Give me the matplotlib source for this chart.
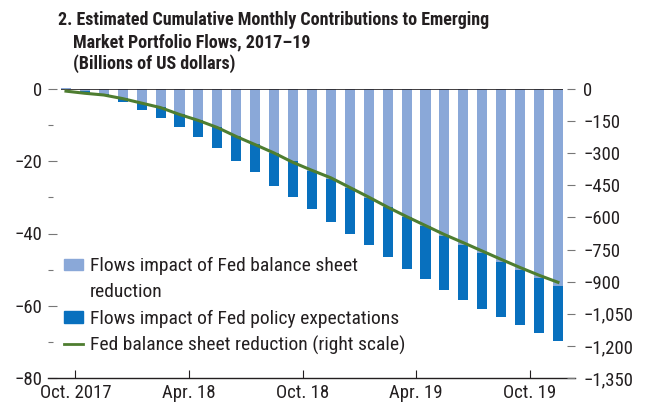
import matplotlib.pyplot as plt
from matplotlib import font_manager
from matplotlib.patches import Patch
from matplotlib.lines import Line2D
from matplotlib.ticker import FixedLocator, FuncFormatter

# pick a condensed face if one is installed, otherwise plain Liberation Sans
narrow = None
for name in ['Liberation Sans Narrow', 'Roboto Condensed', 'Noto Sans Condensed',
             'Open Sans Condensed', 'DejaVu Sans Condensed']:
    try:
        font_manager.findfont(name, fallback_to_default=False)
        narrow = name
        break
    except ValueError:
        pass
plt.rcParams['font.family'] = ([narrow] if narrow else []) + ['Liberation Sans', 'DejaVu Sans']
scale = 1.0 if narrow else 0.85

# monthly, Oct. 2017 .. Dec. 2019 (billions of US dollars)
balance_sheet = [0.4, -0.6, -1.3, -2.5, -3.9, -5.0, -6.8, -8.5, -10.5, -12.9,
                 -15.2, -17.6, -20.0, -22.6, -24.9, -27.5, -30.2, -32.7, -35.5,
                 -38.0, -40.8, -43.3, -45.5, -48.0, -50.2, -52.4, -54.5]
policy_expect = [0.0, -0.5, -0.6, -1.2, -1.8, -2.9, -3.8, -4.9, -5.7, -6.9,
                 -7.9, -9.2, -10.0, -10.7, -12.0, -12.6, -13.1, -13.7, -14.2,
                 -14.5, -14.8, -15.0, -15.3, -15.0, -15.0, -15.1, -15.2]
fed_reduction = [-10, -20, -28, -45, -66, -87, -119, -147, -180, -222, -260,
                 -299, -343, -380, -415, -460, -505, -552, -596, -638, -680,
                 -718, -757, -796, -834, -870, -903]
tick_labels = ['Oct. 2017', 'Apr. 18', 'Oct. 18', 'Apr. 19', 'Oct. 19']

light = '#8AA8D8'
dark = '#0870BE'
green = '#4E7D30'
txt = '#231F20'

x = list(range(len(balance_sheet)))
bottoms = [min(b, 0) for b in balance_sheet]

fig = plt.figure(figsize=(6.54, 4.08), dpi=100)
ax = fig.add_axes([48 / 654, 1 - 378 / 408, 527 / 654, 289 / 408])

ax.bar(x, balance_sheet, width=0.53, color=light, clip_on=False, zorder=2)
ax.bar(x, policy_expect, width=0.53, bottom=bottoms, color=dark, zorder=2)
ax.hlines(0, -0.27, 26.27, color=txt, lw=1.2, zorder=3)

ax.set_xlim(-0.95, 26.9)
ax.set_ylim(-80, 0)
for s in ['top', 'left', 'right']:
    ax.spines[s].set_visible(False)
ax.spines['bottom'].set_color(txt)
ax.spines['bottom'].set_linewidth(1.0)

tick_fs = 13.5 if narrow else 12
ax.set_xticks([0.5, 6.5, 12.5, 18.5, 24.5])
ax.set_xticklabels(tick_labels)
ax.tick_params(axis='x', direction='in', length=6, width=0.8, color=txt,
               labelsize=tick_fs, labelcolor=txt, pad=4)

ax.set_yticks([0, -20, -40, -60, -80])
ax.set_yticklabels(['0', '\u221220', '\u221240', '\u221260', '\u221280'])
ax.yaxis.set_minor_locator(FixedLocator([-10, -30, -50, -70]))
ax.tick_params(axis='y', which='major', direction='in', length=6.5, width=0.8,
               color='#777777', labelsize=tick_fs, labelcolor=txt, pad=4)
ax.tick_params(axis='y', which='minor', direction='in', length=3.5, width=0.8,
               color='#777777')

ax2 = ax.twinx()
ax2.plot(x, fed_reduction, color=green, lw=2.2, zorder=4)
ax2.set_ylim(-1350, 0)
for s in ['top', 'left', 'right', 'bottom']:
    ax2.spines[s].set_visible(False)
ax2.set_yticks(list(range(0, -1351, -150)))
ax2.yaxis.set_major_formatter(FuncFormatter(
    lambda v, p: '0' if v == 0 else '\u2212' + format(int(abs(v)), ',')))
ax2.tick_params(axis='y', direction='in', length=6, width=0.8, color='#777777',
                labelsize=tick_fs, labelcolor=txt, pad=6)

handles = [Patch(color=light), Patch(color='none'), Patch(color=dark),
           Line2D([], [], color=green, lw=2)]
labels = ['Flows impact of Fed balance sheet', 'reduction',
          'Flows impact of Fed policy expectations',
          'Fed balance sheet reduction (right scale)']
leg = ax2.legend(handles, labels, loc='upper left', bbox_to_anchor=(0.015, 0.445),
                 frameon=False, fontsize=14 if narrow else 12.3,
                 handlelength=1.0, handleheight=0.55,
                 handletextpad=0.35, labelspacing=0.42, borderaxespad=0)
for t in leg.get_texts():
    t.set_color(txt)

title_fs = 13 * scale
fig.text(58 / 654, 1 - 20 / 408, '2. Estimated Cumulative Monthly Contributions to Emerging',
         fontsize=title_fs, fontweight='bold', color=txt, va='center', ha='left')
fig.text(73 / 654, 1 - 42 / 408, 'Market Portfolio Flows, 2017\u201319',
         fontsize=title_fs, fontweight='bold', color=txt, va='center', ha='left')
fig.text(73 / 654, 1 - 64 / 408, '(Billions of US dollars)',
         fontsize=title_fs, fontweight='bold', color=txt, va='center', ha='left')

fig.savefig('out.png', dpi=100)
